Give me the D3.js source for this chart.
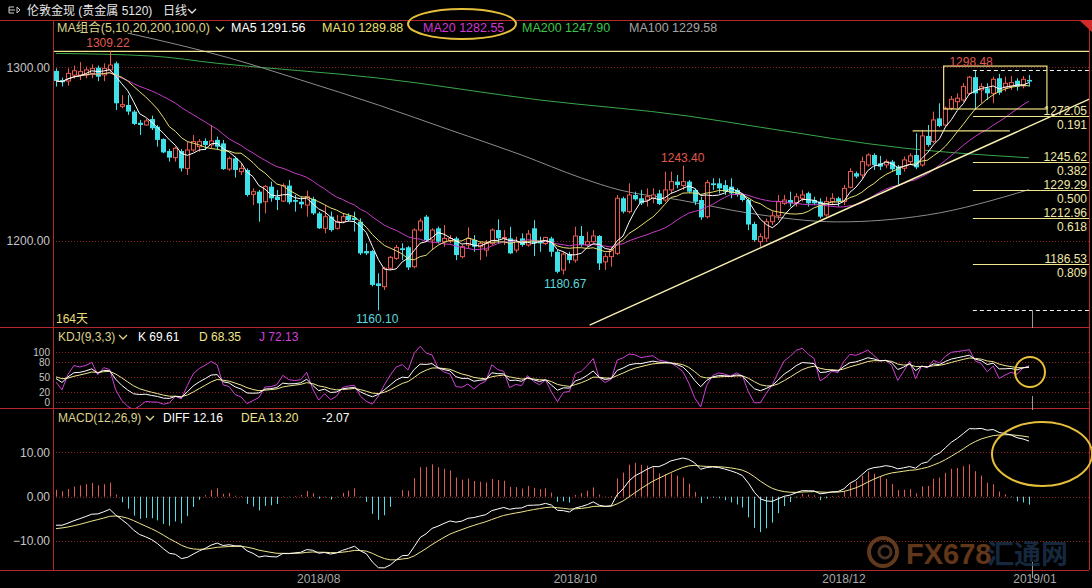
<!DOCTYPE html>
<html><head><meta charset="utf-8">
<script src="https://cdn.jsdelivr.net/npm/d3@7"></script>
<style>
body{margin:0;background:#000}
svg{display:block}
text{font-family:"Liberation Sans","Noto Sans CJK SC",sans-serif}
</style>
</head><body><svg id="chart" width="1092" height="588"></svg>
<script>
// daily candles (164 days)
const opens=[1297.9,1292.7,1292.1,1295.5,1295.6,1295.6,1296.5,1299.8,1295.6,1298.5,1302.3,1277.5,1278.3,1274.5,1268.1,1266.8,1270.2,1265.8,1258.7,1251.8,1248.0,1251.8,1241.8,1252.4,1254.3,1257.6,1255.3,1258.2,1256.2,1241.4,1247.6,1239.9,1240.9,1226.9,1228.4,1222.6,1231.3,1225.5,1223.0,1231.9,1223.6,1222.6,1220.7,1224.2,1215.9,1207.3,1214.0,1207.3,1211.1,1214.6,1213.4,1211.1,1194.2,1194.2,1175.6,1173.7,1184.3,1190.0,1195.8,1196.4,1185.2,1206.3,1214.0,1200.6,1207.3,1199.6,1200.0,1201.5,1191.0,1197.7,1200.6,1196.7,1194.8,1198.6,1206.3,1201.5,1201.5,1194.8,1201.5,1197.7,1207.3,1199.6,1198.6,1201.5,1193.8,1183.3,1192.5,1189.0,1202.9,1197.7,1199.6,1202.9,1188.0,1191.0,1192.9,1224.6,1216.9,1226.5,1224.6,1223.6,1224.6,1227.4,1223.6,1229.4,1234.2,1231.9,1234.2,1229.4,1223.6,1214.0,1233.2,1233.2,1232.2,1231.3,1229.4,1226.5,1223.6,1209.8,1199.6,1201.6,1211.1,1214.5,1221.7,1223.6,1222.1,1224.6,1227.5,1223.6,1222.7,1215.0,1222.7,1224.6,1222.7,1230.9,1239.0,1238.0,1243.8,1249.5,1244.7,1243.8,1245.7,1242.8,1241.9,1245.7,1249.5,1243.8,1260.5,1257.2,1270.6,1266.8,1276.4,1280.2,1281.2,1285.0,1294.3,1287.0,1287.9,1285.0,1293.7,1288.5,1289.3,1292.3,1289.3,1292.7];
const highs=[1299.4,1294.0,1299.4,1301.0,1303.0,1300.4,1301.7,1301.0,1302.3,1309.22,1303.3,1284.0,1284.0,1275.4,1269.7,1270.2,1272.2,1266.8,1259.1,1253.0,1254.3,1253.0,1257.2,1261.0,1258.7,1259.1,1266.8,1260.1,1258.2,1248.6,1248.6,1244.7,1241.8,1230.3,1229.4,1232.2,1234.2,1229.4,1233.2,1235.1,1226.5,1225.5,1229.0,1225.5,1216.9,1220.7,1216.9,1215.0,1215.9,1215.9,1216.9,1213.0,1198.7,1194.8,1181.4,1185.2,1191.4,1197.7,1198.7,1197.1,1207.3,1213.0,1215.0,1207.3,1208.3,1209.2,1203.4,1202.5,1197.7,1207.8,1203.4,1199.6,1200.6,1207.3,1212.5,1206.3,1208.2,1202.5,1204.4,1206.3,1212.0,1202.5,1202.5,1202.5,1194.8,1193.8,1193.8,1208.2,1208.6,1205.4,1206.3,1203.4,1192.9,1196.7,1226.5,1225.5,1233.2,1228.4,1229.4,1230.3,1230.3,1229.4,1239.9,1239.9,1238.0,1243.4,1235.1,1230.3,1225.5,1235.1,1236.1,1236.1,1235.1,1236.1,1230.3,1227.4,1224.6,1211.1,1204.4,1213.0,1217.0,1226.5,1226.5,1228.4,1227.4,1229.4,1228.4,1225.5,1224.6,1225.5,1227.5,1225.5,1232.3,1241.9,1240.0,1248.6,1250.5,1250.5,1249.0,1247.0,1246.7,1243.8,1248.6,1250.5,1262.0,1264.0,1266.8,1274.5,1279.3,1277.4,1283.5,1285.0,1290.8,1295.0,1298.48,1290.8,1290.8,1294.6,1296.2,1294.6,1295.0,1293.7,1295.0,1295.6];
const lows=[1288.9,1289.0,1289.5,1293.5,1292.7,1293.7,1293.7,1292.0,1292.0,1297.5,1275.4,1276.4,1272.6,1266.8,1261.0,1266.4,1263.9,1254.3,1250.5,1245.7,1245.7,1240.0,1238.0,1251.4,1251.4,1252.4,1253.4,1252.4,1240.9,1240.3,1236.5,1238.0,1225.6,1220.7,1211.1,1215.9,1222.6,1217.8,1222.6,1221.1,1216.9,1218.8,1214.0,1215.0,1206.9,1204.4,1205.4,1206.5,1210.2,1211.1,1205.4,1191.9,1191.9,1173.8,1160.10,1171.8,1183.3,1189.1,1189.1,1183.3,1184.3,1205.4,1199.6,1194.8,1198.7,1196.7,1198.7,1189.0,1190.0,1195.8,1193.8,1189.0,1191.0,1197.7,1198.6,1197.7,1192.5,1193.3,1196.7,1196.7,1191.3,1193.8,1197.7,1191.0,1181.4,1180.67,1187.1,1187.5,1196.7,1196.7,1198.6,1183.3,1183.3,1185.2,1191.9,1215.9,1215.9,1223.2,1220.7,1219.8,1221.7,1220.7,1222.6,1227.4,1230.3,1229.4,1227.4,1220.7,1212.1,1213.0,1229.4,1227.4,1226.5,1224.6,1225.5,1222.6,1206.3,1199.6,1196.7,1199.6,1209.2,1212.1,1220.7,1219.8,1219.8,1222.7,1219.8,1220.7,1213.0,1214.0,1220.7,1219.8,1220.7,1230.3,1236.1,1236.1,1242.8,1240.9,1240.9,1241.9,1240.0,1232.3,1240.0,1243.8,1241.3,1242.8,1254.3,1256.3,1265.5,1266.2,1275.4,1276.4,1280.2,1284.1,1275.4,1279.3,1281.2,1279.3,1284.1,1286.0,1287.0,1286.6,1287.9,1288.9];
const closes=[1292.1,1291.4,1296.5,1298.0,1297.5,1298.5,1299.4,1294.6,1299.4,1301.3,1279.3,1278.5,1274.5,1267.4,1266.8,1269.1,1264.9,1258.2,1251.0,1248.0,1253.4,1241.8,1252.4,1257.2,1257.2,1255.3,1257.6,1254.3,1241.4,1247.6,1240.9,1241.8,1226.5,1228.4,1221.7,1231.3,1224.6,1223.6,1231.9,1222.3,1222.6,1221.1,1225.5,1215.9,1207.3,1214.0,1206.3,1211.1,1214.0,1212.1,1212.1,1192.9,1192.9,1174.7,1174.1,1184.3,1190.6,1196.2,1194.8,1184.8,1206.3,1211.5,1200.6,1206.3,1199.6,1201.5,1201.5,1191.9,1196.7,1201.5,1196.7,1198.6,1198.6,1206.3,1201.5,1202.0,1192.9,1199.6,1197.7,1204.0,1198.6,1198.6,1202.0,1193.8,1182.3,1192.5,1189.0,1202.9,1197.7,1199.6,1202.9,1187.1,1191.0,1194.8,1224.6,1216.9,1226.5,1224.0,1221.7,1225.5,1226.5,1221.3,1229.4,1234.2,1232.2,1234.2,1228.4,1222.6,1213.6,1233.6,1232.2,1230.3,1228.4,1227.4,1226.5,1223.6,1209.5,1200.6,1202.5,1211.1,1214.5,1222.6,1223.6,1221.7,1225.5,1226.5,1221.7,1221.7,1214.0,1222.7,1224.6,1222.7,1230.3,1240.0,1237.1,1245.7,1249.5,1243.8,1242.8,1245.7,1241.3,1238.0,1246.7,1249.0,1242.4,1260.5,1255.3,1269.7,1266.2,1276.4,1281.6,1282.2,1288.9,1294.3,1285.0,1288.9,1285.0,1293.1,1285.4,1290.8,1291.2,1288.9,1293.1,1291.8];

// long averages need history that is off the picture: read as [day, price] points
const ma100Pts=[[12,1319.7],[29,1305.4],[41,1292.7],[54,1278.3],[66,1263.9],[78,1249.5],[88,1236.3],[94.5,1229.3],[104.5,1223.6],[116,1216.1],[131,1211.0],[146,1215.0],[163,1229.58]];
const ma200Pts=[[0,1308.0],[16,1306.5],[27,1302.3],[54,1293.8],[81,1281.2],[106,1271.9],[118,1265.5],[142,1253.5],[163,1247.9]];

// indicator state on the first day
const macdSeed={ema12:1298.5,ema26:1304.9,dea:-7.4};
const kdjSeed={k:55,d:52};

// drawn annotations
const fibHigh=1298.48, fibLow=1160.10, fibStartDay=153.6;
const fibPrices=[1272.05,1245.62,1229.29,1212.96,1186.53];
const fibRatios=['0.191','0.382','0.500','0.618','0.809'];
const resistPrice=1309.22;
const trendPts=[[89.4,1151.6],[173.5,1282.3]];
const boxDays=[148.7,166], boxPrices=[1276,1300.7];
const shortLine={days:[143.5,159.8],price:1263.4};
const markText=['1309.22','1243.40','1298.48','1160.10','1180.67'];
const markDay=[8.7,105,153.3,53.8,85.3];
const markAbove=[true,true,true,false,false];

const dateTickDays=[44,87,132,164];
const dateTickLabels=['2018/08','2018/10','2018/12','2019/01'];

const svg=d3.select('#chart')
var L=53, R=1089
var main={top:20,bottom:327}, kdjP={top:327,bottom:408}, macdP={top:408,bottom:570}

var x=d3.scaleLinear().domain([0,163]).range([56,1029]),
    y=d3.scaleLinear().domain([1200,1300]).range([241,67.3]),
    yk=d3.scaleLinear().domain([0,100]).range([402,352]),
    ym=d3.scaleLinear().domain([-10,10]).range([541,452.3])

var RED='#e8594f', CYAN='#40e0e8', GRID='#8a2222', BORDER='#b42a2a', AXT='#c4c4c4'

// clip paths
var defs=svg.append('defs')
function clip(id,t,b){
    defs.append('clipPath').attr('id',id).append('rect')
        .attr('x',L+1).attr('y',t+1).attr('width',R-L-1).attr('height',b-t-1)
}
clip('cm',main.top,main.bottom); clip('ck',kdjP.top,kdjP.bottom); clip('cd',macdP.top,macdP.bottom)

// grid (dotted)
function hgrid(vals,sc){
    vals.forEach(v=>{
        svg.append('line').attr('x1',L).attr('x2',R)
           .attr('y1',Math.round(sc(v))+0.5).attr('y2',Math.round(sc(v))+0.5)
           .attr('stroke',GRID).attr('stroke-dasharray','1 2').attr('stroke-width',1)
    })
}
hgrid([1200,1300],y); hgrid([100,80,50,20,0],yk); hgrid([10,0,-10],ym)

// frame
;[main.top,main.bottom,kdjP.bottom,macdP.bottom].forEach(v=>{
    svg.append('line').attr('x1',0).attr('x2',R).attr('y1',v+0.5).attr('y2',v+0.5)
       .attr('stroke',BORDER).attr('stroke-width',1)
})
svg.append('line').attr('x1',L+0.5).attr('x2',L+0.5).attr('y1',main.top).attr('y2',macdP.bottom).attr('stroke',BORDER)
svg.append('line').attr('x1',R+0.5).attr('x2',R+0.5).attr('y1',main.top).attr('y2',macdP.bottom).attr('stroke',BORDER)
svg.append('path').attr('d',`M${R-10},${main.top} L${R+3},${main.top} L${R+3},${main.top+12} Z`).attr('fill','#d02a2a')

// left axes
function leftAxis(sc,vals,fmt,fs){
    var g=svg.append('g').attr('transform',`translate(${L-3},0)`)
        .call(d3.axisLeft(sc).tickValues(vals).tickFormat(fmt).tickSize(0).tickPadding(0))
    g.select('.domain').remove()
    g.selectAll('text').attr('fill',AXT).attr('font-size',fs).attr('font-family','"Liberation Sans",sans-serif')
    return g
}
leftAxis(y,[1200,1300],d3.format('.2f'),12)
leftAxis(yk,[100,80,50,20,0],d3.format('d'),10).selectAll('text').attr('dy','0.34em')
leftAxis(ym,[10,0,-10],d3.format('.2f'),12)

// ---------- main panel ----------
var gm=svg.append('g').attr('clip-path','url(#cm)')

function ma(n){
    return closes.map((c,i)=>d3.mean(closes.slice(Math.max(0,i-n+1),i+1)))
}
var line=d3.line().x((d,i)=>x(i)).y(d=>y(d))
var ptLine=d3.line().x(d=>x(d[0])).y(d=>y(d[1])).curve(d3.curveMonotoneX)

gm.append('path').attr('d',ptLine(ma200Pts)).attr('fill','none').attr('stroke','#3aa84a')
gm.append('path').attr('d',ptLine(ma100Pts)).attr('fill','none').attr('stroke','#8c8c8c')

// resistance line
gm.append('line').attr('x1',L).attr('x2',R).attr('y1',y(resistPrice)).attr('y2',y(resistPrice))
  .attr('stroke','#f0e890').attr('stroke-width',1.2)

// candles
var cg=gm.append('g')
closes.forEach((c,i)=>{
    var o=opens[i], cx=Math.round(x(i))+0.5, up=c>=o
    var col=up?RED:CYAN
    cg.append('line').attr('x1',cx).attr('x2',cx).attr('y1',y(highs[i])).attr('y2',y(lows[i])).attr('stroke',col)
    var top=y(Math.max(o,c)), bot=y(Math.min(o,c))
    if(up){
        cg.append('rect').attr('x',cx-2).attr('y',top).attr('width',4).attr('height',Math.max(1,bot-top))
          .attr('fill','#000').attr('stroke',col)
    } else {
        cg.append('rect').attr('x',cx-2.5).attr('y',top).attr('width',5).attr('height',Math.max(1.2,bot-top))
          .attr('fill',col)
    }
})

gm.append('path').attr('d',line(ma(20))).attr('fill','none').attr('stroke','#c83cc8')
gm.append('path').attr('d',line(ma(10))).attr('fill','none').attr('stroke','#e8e070')
gm.append('path').attr('d',line(ma(5))).attr('fill','none').attr('stroke','#ffffff')

// trendline
gm.append('line').attr('x1',x(trendPts[0][0])).attr('y1',y(trendPts[0][1]))
  .attr('x2',x(trendPts[1][0])).attr('y2',y(trendPts[1][1]))
  .attr('stroke','#f8f0b0').attr('stroke-width',1.4)

// box + short line
gm.append('rect').attr('x',x(boxDays[0])).attr('y',y(boxPrices[1]))
  .attr('width',x(boxDays[1])-x(boxDays[0])).attr('height',y(boxPrices[0])-y(boxPrices[1]))
  .attr('fill','none').attr('stroke','#f0e080').attr('stroke-width',1.2)
gm.append('line').attr('x1',x(shortLine.days[0])).attr('x2',x(shortLine.days[1]))
  .attr('y1',y(shortLine.price)).attr('y2',y(shortLine.price)).attr('stroke','#f0e080').attr('stroke-width',1.2)

// fibonacci
;[fibHigh,fibLow].forEach(p=>{
    gm.append('line').attr('x1',x(fibStartDay)).attr('x2',R).attr('y1',Math.round(y(p))+0.5).attr('y2',Math.round(y(p))+0.5)
      .attr('stroke','#f0f0f0').attr('stroke-dasharray','4 3')
})
fibPrices.forEach((p,k)=>{
    var yy=Math.round(y(p))+0.5
    gm.append('line').attr('x1',x(fibStartDay)).attr('x2',R).attr('y1',yy).attr('y2',yy)
      .attr('stroke','#f0e68c').attr('stroke-width',1.2)
    svg.append('text').attr('x',1087).attr('y',yy-2).attr('text-anchor','end')
       .attr('fill','#f0e8a8').attr('font-size',12).text(p.toFixed(2))
    svg.append('text').attr('x',1087).attr('y',yy+12).attr('text-anchor','end')
       .attr('fill','#f0e8a8').attr('font-size',12).text(fibRatios[k])
})

// extreme marks
markText.forEach((t,k)=>{
    var p=+t
    svg.append('text').attr('x',x(markDay[k])).attr('y',markAbove[k]?y(p)-4:y(p)+13)
       .attr('text-anchor','middle').attr('font-size',12)
       .attr('fill',markAbove[k]?'#e05a50':'#5cd8dc').text(t)
})

svg.append('text').attr('x',56).attr('y',323).attr('font-size',12).attr('fill','#e8dc78').text('164天')

// ---------- KDJ ----------
var K=[],D=[],J=[]
var k0=kdjSeed.k, d0=kdjSeed.d
closes.forEach((c,i)=>{
    var s=Math.max(0,i-8)
    var hh=d3.max(highs.slice(s,i+1)), ll=d3.min(lows.slice(s,i+1))
    var rsv=hh==ll?50:(c-ll)/(hh-ll)*100
    k0=(2*k0+rsv)/3; d0=(2*d0+k0)/3
    K.push(k0); D.push(d0); J.push(3*k0-2*d0)
})
var gk=svg.append('g').attr('clip-path','url(#ck)')
var kl=d3.line().x((d,i)=>x(i)).y(d=>yk(d))
gk.append('path').attr('d',kl(J)).attr('fill','none').attr('stroke','#d040d8')
gk.append('path').attr('d',kl(D)).attr('fill','none').attr('stroke','#f0e68c')
gk.append('path').attr('d',kl(K)).attr('fill','none').attr('stroke','#ffffff')

// ---------- MACD ----------
var DIF=[],DEA=[],HIST=[]
var e12=macdSeed.ema12, e26=macdSeed.ema26, dea=macdSeed.dea
closes.forEach(c=>{
    e12=(2*c+11*e12)/13; e26=(2*c+25*e26)/27
    var dif=e12-e26; dea=(2*dif+8*dea)/10
    DIF.push(dif); DEA.push(dea); HIST.push(2*(dif-dea))
})
var gd=svg.append('g').attr('clip-path','url(#cd)')
HIST.forEach((h,i)=>{
    var cx=Math.round(x(i))+0.5
    gd.append('line').attr('x1',cx).attr('x2',cx).attr('y1',ym(0)).attr('y2',ym(h))
      .attr('stroke',h>=0?'#e05a50':'#50dce4')
})
var ml=d3.line().x((d,i)=>x(i)).y(d=>ym(d))
gd.append('path').attr('d',ml(DEA)).attr('fill','none').attr('stroke','#f0e68c')
gd.append('path').attr('d',ml(DIF)).attr('fill','none').attr('stroke','#ffffff')

// cursor ticks at the last day
;[[310,328],[396,410],[562,578]].forEach(s=>{
    svg.append('line').attr('x1',x(163)+3.5).attr('x2',x(163)+3.5).attr('y1',s[0]).attr('y2',s[1]).attr('stroke','#9a9a9a')
})

// date axis
dateTickDays.forEach((d,k)=>{
    svg.append('text').attr('x',x(d)).attr('y',583).attr('text-anchor','middle')
       .attr('font-size',12).attr('fill','#a8a8a8').text(dateTickLabels[k])
})

// ---------- header / legends ----------
function chev(x0,y0,col){
    svg.append('path').attr('d',`M${x0},${y0} L${x0+4},${y0+4} L${x0+8},${y0}`).attr('fill','none').attr('stroke',col).attr('stroke-width',1.3)
}
svg.append('path').attr('d','M14,7 L9,7 L9,13 L14,13 M9,10 L15,10 M17,7 L20,10 L17,13 Z').attr('fill','none').attr('stroke','#cfcfcf')
svg.append('text').attr('x',27).attr('y',15).attr('font-size',12).attr('fill','#e6e6e6').text('伦敦金现 (贵金属 5120)')
svg.append('text').attr('x',163).attr('y',15).attr('font-size',12).attr('fill','#e6e6e6').text('日线')
chev(188,9,'#e6e6e6')

var maRow=[['MA组合(5,10,20,200,100,0)',57,'#dcd48a'],['MA5 1291.56',231,'#ffffff'],['MA10 1289.88',322,'#e8e070'],
           ['MA20 1282.55',423,'#d238d2'],['MA200 1247.90',522,'#3cc84c'],['MA100 1229.58',629,'#a4a4a4']]
maRow.forEach(r=>svg.append('text').attr('x',r[1]).attr('y',32).attr('font-size',12.5).attr('fill',r[2]).text(r[0]))
chev(216,27,'#dcd48a')

var kRow=[['KDJ(9,3,3)',58,'#dcd48a'],['K 69.61',138,'#ffffff'],['D 68.35',199,'#f0e68c'],['J 72.13',259,'#d040d8']]
kRow.forEach(r=>svg.append('text').attr('x',r[1]).attr('y',341).attr('font-size',12).attr('fill',r[2]).text(r[0]))
chev(119,335,'#dcd48a')

var mRow=[['MACD(12,26,9)',58,'#dcd48a'],['DIFF 12.16',163,'#ffffff'],['DEA 13.20',241,'#f0e68c'],['-2.07',322,'#ffffff']]
mRow.forEach(r=>svg.append('text').attr('x',r[1]).attr('y',422).attr('font-size',12).attr('fill',r[2]).text(r[0]))
chev(146,416,'#dcd48a')

// highlight ellipses
var EL='#e6bf3a'
svg.append('ellipse').attr('cx',462).attr('cy',24).attr('rx',54).attr('ry',15).attr('fill','none').attr('stroke',EL).attr('stroke-width',2)
svg.append('ellipse').attr('cx',1030).attr('cy',372).attr('rx',15).attr('ry',15).attr('fill','none').attr('stroke',EL).attr('stroke-width',2)
svg.append('ellipse').attr('cx',1042).attr('cy',454).attr('rx',50).attr('ry',32).attr('fill','none').attr('stroke',EL).attr('stroke-width',2)

// watermark
var wm=svg.append('g').attr('opacity',0.7)
wm.append('circle').attr('cx',883).attr('cy',552).attr('r',14).attr('fill','none').attr('stroke','#8a5228').attr('stroke-width',4)
wm.append('circle').attr('cx',885).attr('cy',552).attr('r',6).attr('fill','none').attr('stroke','#6a4a3a').attr('stroke-width',3)
wm.append('text').attr('x',906).attr('y',564).attr('font-size',29).attr('font-weight','bold').attr('fill','#8a4e24').text('FX678')
wm.append('text').attr('x',987).attr('y',564).attr('font-size',27).attr('font-weight','bold').attr('fill','#1e3a58').text('汇通网')
</script>
</body></html>
